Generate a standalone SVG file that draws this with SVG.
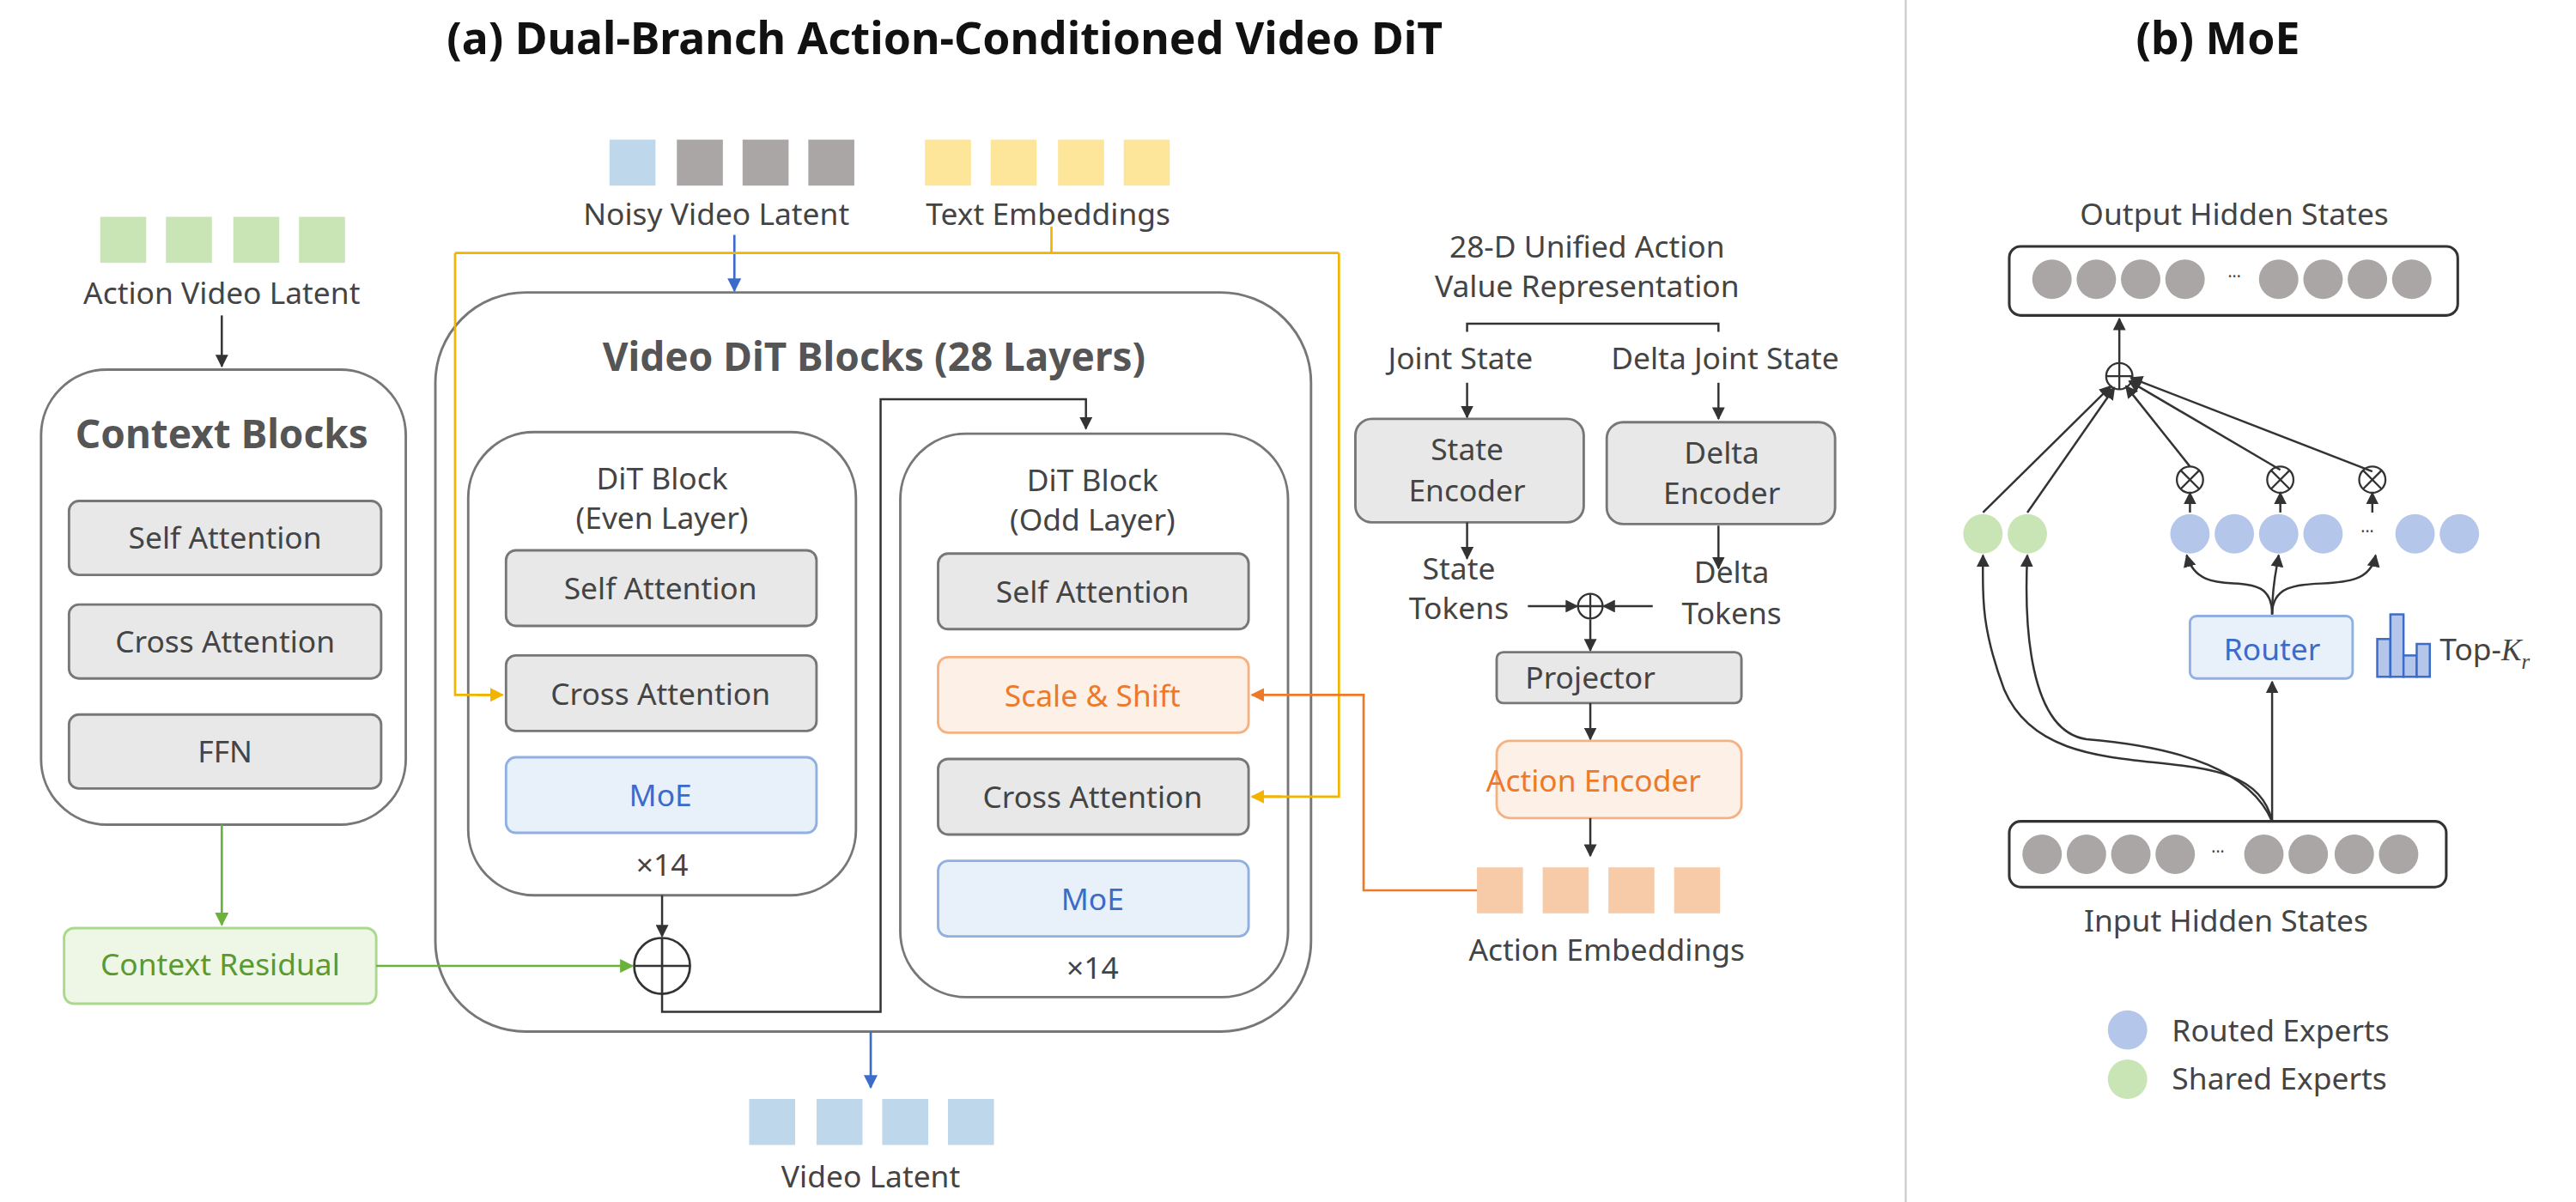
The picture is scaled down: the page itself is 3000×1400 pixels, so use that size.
<svg xmlns="http://www.w3.org/2000/svg" width="3000" height="1400" viewBox="0 0 3000 1400">
<defs>
<style>
text{font-family:"Noto Sans","DejaVu Sans",sans-serif;fill:#444;text-anchor:middle}
.t{font-size:18.5px}
.h{font-size:24px;font-weight:bold;fill:#555}
.title{font-size:27px;font-weight:bold;fill:#111}
.gbox{fill:#e8e8e8;stroke:#777;stroke-width:1.5}
.moe{fill:#e8f0f9;stroke:#8fb0e0;stroke-width:1.5}
.org{fill:#fdf0e7;stroke:#f4b183;stroke-width:1.5}
.big{fill:#fff;stroke:#777;stroke-width:1.5}
.ln{fill:none;stroke:#333;stroke-width:1.3}
.gc{fill:#aaa6a5}.bc{fill:#b4c6e9}.sc{fill:#c9e5b5}
</style>
<marker id="ak" viewBox="0 0 10 10" refX="9" refY="5" markerWidth="6" markerHeight="6" orient="auto"><path d="M0,0L10,5L0,10z" fill="#333"/></marker>
<marker id="ag" viewBox="0 0 10 10" refX="9" refY="5" markerWidth="6" markerHeight="6" orient="auto"><path d="M0,0L10,5L0,10z" fill="#6ab23c"/></marker>
<marker id="ab" viewBox="0 0 10 10" refX="9" refY="5" markerWidth="6" markerHeight="6" orient="auto"><path d="M0,0L10,5L0,10z" fill="#3c6bc9"/></marker>
<marker id="ay" viewBox="0 0 10 10" refX="9" refY="5" markerWidth="6" markerHeight="6" orient="auto"><path d="M0,0L10,5L0,10z" fill="#f2b400"/></marker>
<marker id="ao" viewBox="0 0 10 10" refX="9" refY="5" markerWidth="6" markerHeight="6" orient="auto"><path d="M0,0L10,5L0,10z" fill="#ec7a2a"/></marker>
</defs>
<rect width="3000" height="1400" fill="#fff"/>
<g transform="scale(1.9133)">
<line x1="1160" y1="0" x2="1160" y2="732" stroke="#ccc" stroke-width="1.2"/>
<text class="title" x="575" y="33">(a) Dual-Branch Action-Conditioned Video DiT</text>
<text class="title" x="1350" y="33">(b) MoE</text>

<g id="action-video-latent">
<rect x="61" y="132" width="28" height="28" class="sc"/><rect x="101" y="132" width="28" height="28" class="sc"/><rect x="142" y="132" width="28" height="28" class="sc"/><rect x="182" y="132" width="28" height="28" class="sc"/>
<text class="t" x="135" y="185">Action Video Latent</text>
</g>
<g id="context-blocks">
<rect x="25" y="225" width="222" height="277" rx="40" class="big"/>
<text class="h" x="135" y="273">Context Blocks</text>
<rect x="42" y="305" width="190" height="45" rx="6" class="gbox"/><text class="t" x="137" y="334">Self Attention</text>
<rect x="42" y="368" width="190" height="45" rx="6" class="gbox"/><text class="t" x="137" y="397">Cross Attention</text>
<rect x="42" y="435" width="190" height="45" rx="6" class="gbox"/><text class="t" x="137" y="464">FFN</text>
</g>
<g id="context-residual">
<rect x="39" y="565" width="190" height="46" rx="6" fill="#eef6e6" stroke="#a9d98b" stroke-width="1.5"/>
<text class="t" x="134" y="594" style="fill:#5a9a2e">Context Residual</text>
</g>
<g id="noisy-video-latent">
<rect x="371" y="85" width="28" height="28" fill="#bfd7ea"/><rect x="412" y="85" width="28" height="28" class="gc"/><rect x="452" y="85" width="28" height="28" class="gc"/><rect x="492" y="85" width="28" height="28" class="gc"/>
<text class="t" x="436" y="137">Noisy Video Latent</text>
</g>
<g id="text-embeddings">
<rect x="563" y="85" width="28" height="28" fill="#fde59a"/><rect x="603" y="85" width="28" height="28" fill="#fde59a"/><rect x="644" y="85" width="28" height="28" fill="#fde59a"/><rect x="684" y="85" width="28" height="28" fill="#fde59a"/>
<text class="t" x="638" y="137">Text Embeddings</text>
</g>
<g id="video-dit">
<rect x="265" y="178" width="533" height="450" rx="55" fill="none" stroke="#777" stroke-width="1.5"/>
<text class="h" x="532" y="226">Video DiT Blocks (28 Layers)</text>
</g>
<g id="even-block">
<rect x="285" y="263" width="236" height="282" rx="40" fill="#fff" stroke="#777" stroke-width="1.5"/>
<text class="t" x="403" y="298">DiT Block</text><text class="t" x="403" y="322">(Even Layer)</text>
<rect x="308" y="335" width="189" height="46" rx="6" class="gbox"/><text class="t" x="402" y="365">Self Attention</text>
<rect x="308" y="399" width="189" height="46" rx="6" class="gbox"/><text class="t" x="402" y="429">Cross Attention</text>
<rect x="308" y="461" width="189" height="46" rx="6" class="moe"/><text class="t" x="402" y="491" style="fill:#3c6bc9">MoE</text>
<text class="t" x="403" y="533">×14</text>
</g>
<g id="odd-block">
<rect x="548" y="264" width="236" height="343" rx="40" fill="#fff" stroke="#777" stroke-width="1.5"/>
<text class="t" x="665" y="299">DiT Block</text><text class="t" x="665" y="323">(Odd Layer)</text>
<rect x="571" y="337" width="189" height="46" rx="6" class="gbox"/><text class="t" x="665" y="367">Self Attention</text>
<rect x="571" y="400" width="189" height="46" rx="6" class="org"/><text class="t" x="665" y="430" style="fill:#ec7a2a">Scale &amp; Shift</text>
<rect x="571" y="462" width="189" height="46" rx="6" class="gbox"/><text class="t" x="665" y="492">Cross Attention</text>
<rect x="571" y="524" width="189" height="46" rx="6" class="moe"/><text class="t" x="665" y="554" style="fill:#3c6bc9">MoE</text>
<text class="t" x="665" y="596">×14</text>
</g>
<g id="residual-add">
<circle cx="403" cy="588" r="17" fill="#fff" stroke="#333" stroke-width="1.4"/>
<path d="M386,588H420M403,571V605" stroke="#333" stroke-width="1.4"/>
</g>
<g id="video-latent">
<rect x="456" y="669" width="28" height="28" fill="#bfd7ea"/><rect x="497" y="669" width="28" height="28" fill="#bfd7ea"/><rect x="537" y="669" width="28" height="28" fill="#bfd7ea"/><rect x="577" y="669" width="28" height="28" fill="#bfd7ea"/>
<text class="t" x="530" y="723">Video Latent</text>
</g>
<g id="action-branch">
<text class="t" x="966" y="157">28-D Unified Action</text>
<text class="t" x="966" y="181">Value  Representation</text>
<text class="t" x="889" y="225">Joint State</text>
<text class="t" x="1050" y="225">Delta Joint State</text>
<rect x="825" y="255" width="139" height="63" rx="10" class="gbox"/><text class="t" x="893" y="280">State</text><text class="t" x="893" y="305">Encoder</text>
<rect x="978" y="257" width="139" height="62" rx="10" class="gbox"/><text class="t" x="1048" y="282">Delta</text><text class="t" x="1048" y="307">Encoder</text>
<text class="t" x="888" y="353">State</text><text class="t" x="888" y="377">Tokens</text>
<text class="t" x="1054" y="355">Delta</text><text class="t" x="1054" y="380">Tokens</text>
<circle cx="968" cy="369" r="7.5" fill="#fff" stroke="#333" stroke-width="1.2"/><path d="M960.5,369H975.5M968,361.5V376.5" stroke="#333" stroke-width="1.2"/>
<rect x="911" y="397" width="149" height="31" rx="4" class="gbox"/><text class="t" x="968" y="419">Projector</text>
<rect x="911" y="451" width="149" height="47" rx="8" class="org"/><text class="t" x="970" y="482" style="fill:#ec7a2a">Action Encoder</text>
<rect x="899" y="528" width="28" height="28" fill="#f8cba8"/><rect x="939" y="528" width="28" height="28" fill="#f8cba8"/><rect x="979" y="528" width="28" height="28" fill="#f8cba8"/><rect x="1019" y="528" width="28" height="28" fill="#f8cba8"/>
<text class="t" x="978" y="585">Action Embeddings</text>
</g>
<g id="moe-output">
<text class="t" x="1360" y="137">Output Hidden States</text>
<rect x="1223" y="150" width="273" height="42" rx="7" fill="#fff" stroke="#333" stroke-width="1.6"/>
<circle cx="1249" cy="170" r="12" class="gc"/><circle cx="1276" cy="170" r="12" class="gc"/><circle cx="1303" cy="170" r="12" class="gc"/><circle cx="1330" cy="170" r="12" class="gc"/>
<text x="1360" y="172" style="font-size:10px">···</text>
<circle cx="1387" cy="170" r="12" class="gc"/><circle cx="1414" cy="170" r="12" class="gc"/><circle cx="1441" cy="170" r="12" class="gc"/><circle cx="1468" cy="170" r="12" class="gc"/>
</g>
<g id="moe-sum">
<circle cx="1290" cy="229" r="8" fill="#fff" stroke="#333" stroke-width="1.2"/><path d="M1282,229H1298M1290,221V237" stroke="#333" stroke-width="1.2"/>
</g>
<g id="gates" stroke="#333" stroke-width="1.2" fill="#fff">
<circle cx="1333" cy="292" r="8"/><path d="M1327.5,286.5L1338.5,297.5M1338.5,286.5L1327.5,297.5"/>
<circle cx="1388" cy="292" r="8"/><path d="M1382.5,286.5L1393.5,297.5M1393.5,286.5L1382.5,297.5"/>
<circle cx="1444" cy="292" r="8"/><path d="M1438.5,286.5L1449.5,297.5M1449.5,286.5L1438.5,297.5"/>
</g>
<g id="experts">
<circle cx="1207" cy="325" r="12" class="sc"/><circle cx="1234" cy="325" r="12" class="sc"/>
<circle cx="1333" cy="325" r="12" class="bc"/><circle cx="1360" cy="325" r="12" class="bc"/><circle cx="1387" cy="325" r="12" class="bc"/><circle cx="1414" cy="325" r="12" class="bc"/>
<text x="1441" y="327" style="font-size:10px">···</text>
<circle cx="1470" cy="325" r="12" class="bc"/><circle cx="1497" cy="325" r="12" class="bc"/>
</g>
<g id="router">
<rect x="1333" y="375" width="99" height="38" rx="4" class="moe"/>
<text class="t" x="1383" y="402" style="fill:#3c6bc9">Router</text>
<g fill="#b4c6e9" stroke="#3c6bc9" stroke-width="1.3">
<rect x="1447" y="389" width="8" height="23"/><rect x="1455" y="374" width="8" height="38"/><rect x="1463" y="399" width="8" height="13"/><rect x="1471" y="392" width="8" height="20"/>
</g>
<text class="t" x="1485" y="402" style="text-anchor:start">Top-<tspan style="font-family:'Liberation Serif',serif;font-style:italic">K</tspan><tspan dy="5" style="font-family:'Liberation Serif',serif;font-style:italic;font-size:13px">r</tspan></text>
</g>
<g id="moe-input">
<rect x="1223" y="500" width="266" height="40" rx="7" fill="#fff" stroke="#333" stroke-width="1.6"/>
<circle cx="1243" cy="520" r="12" class="gc"/><circle cx="1270" cy="520" r="12" class="gc"/><circle cx="1297" cy="520" r="12" class="gc"/><circle cx="1324" cy="520" r="12" class="gc"/>
<text x="1350" y="522" style="font-size:10px">···</text>
<circle cx="1378" cy="520" r="12" class="gc"/><circle cx="1405" cy="520" r="12" class="gc"/><circle cx="1433" cy="520" r="12" class="gc"/><circle cx="1460" cy="520" r="12" class="gc"/>
<text class="t" x="1355" y="567">Input Hidden States</text>
</g>
<g id="legend">
<circle cx="1295" cy="627" r="12" class="bc"/><text class="t" x="1322" y="634" style="text-anchor:start">Routed Experts</text>
<circle cx="1295" cy="657" r="12" class="sc"/><text class="t" x="1322" y="663" style="text-anchor:start">Shared Experts</text>
</g>

<g id="connectors">
<line class="ln" x1="135" y1="192" x2="135" y2="223" marker-end="url(#ak)"/>
<line x1="135" y1="502" x2="135" y2="563" stroke="#6ab23c" stroke-width="1.4" marker-end="url(#ag)"/>
<line x1="229" y1="588" x2="385" y2="588" stroke="#6ab23c" stroke-width="1.4" marker-end="url(#ag)"/>
<line x1="447" y1="143" x2="447" y2="177" stroke="#3c6bc9" stroke-width="1.4" marker-end="url(#ab)"/>
<path d="M640,138V154M277,154H815M277,154V423H305M815,154V485H764" fill="none" stroke="#f2b400" stroke-width="1.4"/>
<line x1="290" y1="423" x2="306" y2="423" stroke="#f2b400" stroke-width="1.4" marker-end="url(#ay)"/>
<line x1="780" y1="485" x2="762" y2="485" stroke="#f2b400" stroke-width="1.4" marker-end="url(#ay)"/>
<path d="M899,542H830V423H762" fill="none" stroke="#ec7a2a" stroke-width="1.4" marker-end="url(#ao)"/>
<line class="ln" x1="403" y1="545" x2="403" y2="570" marker-end="url(#ak)"/>
<path class="ln" d="M403,605V616H536V243H661V261" marker-end="url(#ak)"/>
<line x1="530" y1="628" x2="530" y2="662" stroke="#3c6bc9" stroke-width="1.4" marker-end="url(#ab)"/>
<path class="ln" d="M893,202V197H1046V202"/>
<line class="ln" x1="893" y1="233" x2="893" y2="254" marker-end="url(#ak)"/>
<line class="ln" x1="1046" y1="233" x2="1046" y2="255" marker-end="url(#ak)"/>
<line class="ln" x1="893" y1="318" x2="893" y2="340" marker-end="url(#ak)"/>
<line class="ln" x1="1046" y1="320" x2="1046" y2="346" marker-end="url(#ak)"/>
<line class="ln" x1="930" y1="369" x2="960" y2="369" marker-end="url(#ak)"/>
<line class="ln" x1="1006" y1="369" x2="976" y2="369" marker-end="url(#ak)"/>
<line class="ln" x1="968" y1="377" x2="968" y2="396" marker-end="url(#ak)"/>
<line class="ln" x1="968" y1="428" x2="968" y2="450" marker-end="url(#ak)"/>
<line class="ln" x1="968" y1="498" x2="968" y2="521" marker-end="url(#ak)"/>
<line class="ln" x1="1290" y1="221" x2="1290" y2="194" marker-end="url(#ak)"/>
<line class="ln" x1="1207" y1="312" x2="1285" y2="235" marker-end="url(#ak)"/>
<line class="ln" x1="1234" y1="312" x2="1287" y2="236" marker-end="url(#ak)"/>
<line class="ln" x1="1333" y1="284" x2="1294" y2="235" marker-end="url(#ak)"/>
<line class="ln" x1="1388" y1="286" x2="1296" y2="232" marker-end="url(#ak)"/>
<line class="ln" x1="1444" y1="287" x2="1297" y2="230" marker-end="url(#ak)"/>
<line class="ln" x1="1333" y1="312" x2="1333" y2="300" marker-end="url(#ak)"/>
<line class="ln" x1="1388" y1="312" x2="1388" y2="300" marker-end="url(#ak)"/>
<line class="ln" x1="1444" y1="312" x2="1444" y2="300" marker-end="url(#ak)"/>
<path class="ln" d="M1383,374C1383,340 1340,370 1331,338" marker-end="url(#ak)"/>
<path class="ln" d="M1383,374C1383,355 1386,345 1387,338" marker-end="url(#ak)"/>
<path class="ln" d="M1383,374C1383,340 1440,370 1446,338" marker-end="url(#ak)"/>
<line class="ln" x1="1383" y1="500" x2="1383" y2="415" marker-end="url(#ak)"/>
<path class="ln" d="M1383,500C1370,440 1250,490 1220,420C1205,380 1207,360 1207,338" marker-end="url(#ak)"/>
<path class="ln" d="M1383,500C1370,470 1330,455 1270,450C1235,445 1232,380 1234,338" marker-end="url(#ak)"/>
</g>
</g>
</svg>
